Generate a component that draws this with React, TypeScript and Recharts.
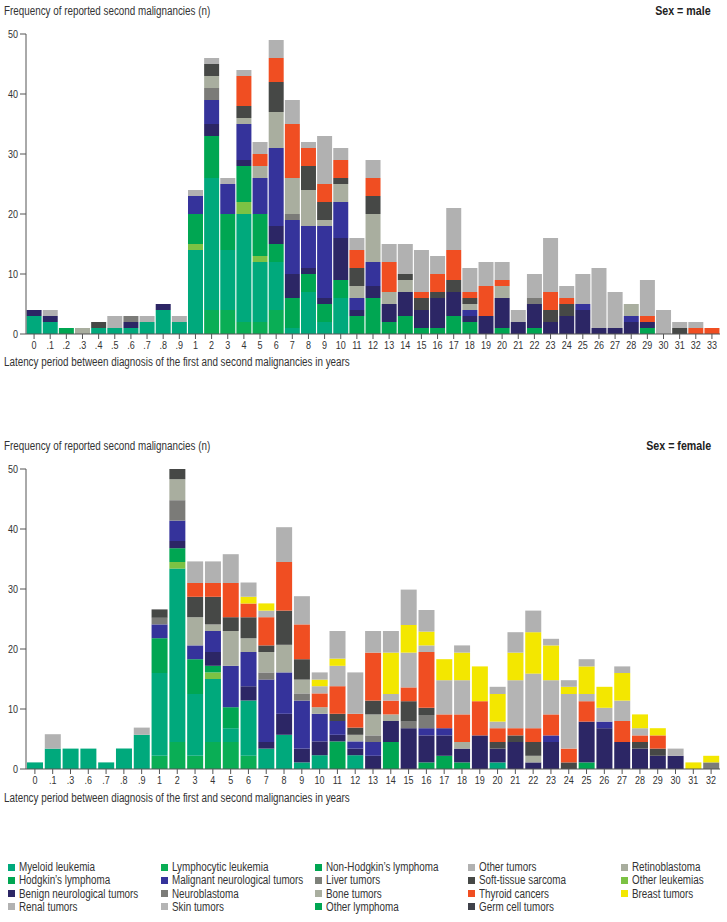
import React from 'react';
import { BarChart, Bar, XAxis, YAxis } from 'recharts';

// ---------- categories ----------
const maleYears = ['0', '.1', '.2', '.3', '.4', '.5', '.6', '.7', '.8', '.9',
  '1', '2', '3', '4', '5', '6', '7', '8', '9', '10',
  '11', '12', '13', '14', '15', '16', '17', '18', '19', '20',
  '21', '22', '23', '24', '25', '26', '27', '28', '29', '30',
  '31', '32', '33'];
const femaleYears = ['0', '.1', '.3', '.6', '.7', '.8', '.9',
  '1', '2', '3', '4', '5', '6', '7', '8', '9', '10',
  '11', '12', '13', '14', '15', '16', '17', '18', '19', '20',
  '21', '22', '23', '24', '25', '26', '27', '28', '29', '30',
  '31', '32'];
const yTicks = [0, 10, 20, 30, 40, 50];

// ---------- male series (bottom to top of stack) ----------
const maleLym = [0, 0, 0, 0, 0, 0, 0, 0, 0, 0, 0, 4, 4, 2, 2, 4, 0, 0, 0, 0, 0, 0, 0, 0, 0, 0, 0, 0, 0, 0, 0, 0, 0, 0, 0, 0, 0, 0, 0, 0, 0, 0, 0];
const maleMye = [3, 2, 0, 0, 1, 1, 1, 2, 4, 2, 14, 22, 10, 18, 10, 8, 1, 7, 2, 6, 0, 0, 0, 0, 0, 0, 0, 0, 0, 0, 0, 0, 0, 0, 0, 0, 0, 0, 0, 0, 0, 0, 0];
const maleOleuk = [0, 0, 0, 0, 0, 0, 0, 0, 0, 0, 1, 0, 0, 2, 1, 0, 0, 0, 0, 0, 0, 0, 0, 0, 0, 0, 0, 0, 0, 0, 0, 0, 0, 0, 0, 0, 0, 0, 0, 0, 0, 0, 0];
const maleNhl = [0, 0, 1, 0, 0, 0, 0, 0, 0, 0, 5, 7, 6, 6, 7, 3, 5, 3, 3, 3, 3, 6, 2, 3, 1, 1, 3, 2, 0, 1, 0, 1, 0, 0, 0, 0, 0, 0, 1, 0, 0, 0, 0];
const maleBen = [1, 1, 0, 0, 0, 0, 1, 0, 1, 0, 0, 2, 0, 1, 0, 3, 4, 1, 1, 7, 1, 2, 3, 4, 3, 5, 4, 1, 3, 5, 2, 4, 2, 3, 4, 1, 1, 2, 1, 0, 0, 0, 0];
const maleMal = [0, 0, 0, 0, 0, 0, 0, 0, 0, 0, 3, 4, 5, 6, 6, 13, 9, 7, 12, 6, 2, 4, 0, 0, 0, 0, 0, 1, 0, 0, 0, 0, 0, 0, 1, 0, 0, 1, 0, 0, 0, 0, 0];
const maleNeu = [0, 0, 0, 0, 0, 0, 1, 0, 0, 0, 0, 2, 0, 0, 0, 0, 1, 0, 0, 0, 0, 0, 0, 0, 0, 0, 0, 0, 0, 0, 0, 1, 0, 0, 0, 0, 0, 0, 0, 0, 0, 0, 0];
const maleBone = [0, 0, 0, 1, 0, 0, 0, 0, 0, 0, 0, 2, 0, 1, 2, 6, 6, 6, 1, 3, 2, 8, 2, 2, 0, 0, 0, 1, 0, 2, 0, 0, 0, 0, 0, 0, 0, 2, 0, 0, 0, 0, 0];
const maleSoft = [0, 0, 0, 0, 1, 0, 0, 0, 0, 0, 0, 2, 0, 2, 0, 5, 0, 4, 3, 1, 3, 3, 0, 1, 2, 1, 2, 1, 0, 0, 0, 0, 2, 2, 0, 0, 0, 0, 0, 0, 1, 0, 0];
const maleThy = [0, 0, 0, 0, 0, 0, 0, 0, 0, 0, 0, 0, 0, 5, 2, 4, 9, 3, 3, 3, 3, 3, 5, 0, 1, 3, 5, 1, 5, 1, 0, 0, 3, 1, 0, 0, 0, 0, 1, 0, 0, 1, 1];
const maleSkin = maleYears.map(() => 0);
const maleBrst = maleYears.map(() => 0);
const maleOth = [0, 1, 0, 0, 0, 2, 0, 1, 0, 1, 1, 1, 1, 1, 2, 3, 4, 1, 8, 2, 2, 3, 3, 5, 7, 3, 7, 4, 4, 3, 2, 4, 9, 2, 5, 10, 6, 0, 6, 4, 1, 1, 0];

// ---------- female series (bottom to top of stack) ----------
const femLym = [0, 0, 0, 0, 0, 0, 0, 2.2, 4.5, 2.2, 4.5, 4.5, 2.2, 0, 0, 0, 0, 0, 0, 0, 0, 0, 0, 0, 0, 0, 0, 0, 0, 0, 0, 0, 0, 0, 0, 0, 0, 0, 0];
const femMye = [1.1, 3.4, 3.4, 3.4, 1.1, 3.4, 5.7, 13.8, 28.9, 10.3, 10.5, 2.3, 9.2, 3.4, 5.7, 1.1, 2.3, 0, 2.3, 0, 0, 0, 0, 0, 0, 0, 1.1, 0, 0, 0, 0, 0, 0, 0, 0, 0, 0, 0, 0];
const femOleuk = [0, 0, 0, 0, 0, 0, 0, 0, 1.1, 0, 1.1, 0, 0, 0, 0, 0, 0, 0, 0, 0, 0, 0, 0, 0, 0, 0, 0, 0, 0, 0, 0, 0, 0, 0, 0, 0, 0, 0, 0];
const femNhl = [0, 0, 0, 0, 0, 0, 0, 5.8, 2.3, 5.8, 1.1, 3.5, 0, 0, 0, 0, 0, 4.6, 0, 0, 4.5, 0, 1.1, 2.2, 1.1, 0, 0, 0, 0, 0, 0, 1.1, 0, 0, 0, 0, 0, 0, 0];
const femBen = [0, 0, 0, 0, 0, 0, 0, 0, 1.2, 0, 2.3, 0, 2.4, 1.1, 3.5, 2.3, 2.3, 1.1, 1.1, 2.2, 3.5, 6.8, 4.5, 3.4, 2.3, 5.6, 2.3, 4.5, 1.1, 4.5, 0, 6.8, 6.8, 4.5, 3.4, 2.2, 2.2, 0, 0];
const femMal = [0, 0, 0, 0, 0, 0, 0, 2.3, 3.4, 2.3, 3.5, 6.9, 5.7, 10.4, 6.9, 8, 4.6, 2.3, 1.2, 2.3, 0, 0, 1.2, 1.2, 0, 0, 0, 0, 0, 1.1, 0, 0, 1.1, 0, 0, 0, 0, 0, 0];
const femNeu = [0, 0, 0, 0, 0, 0, 0, 1.1, 3.4, 0, 0, 0, 0, 1.2, 0, 1.2, 0, 0, 0, 1.1, 0, 1.1, 2.2, 0, 0, 0, 0, 0, 0, 0, 0, 0, 0, 0, 0, 0, 0, 0, 1.1];
const femBone = [0, 0, 0, 0, 0, 0, 0, 0, 3.5, 4.7, 1.1, 5.8, 2.3, 3.4, 4.6, 2.3, 1.1, 0, 1.1, 3.5, 1.1, 0, 0, 0, 1.1, 0, 0, 0, 1.1, 0, 0, 0, 0, 0, 0, 0, 0, 0, 0];
const femSoft = [0, 0, 0, 0, 0, 0, 0, 1.4, 1.7, 3.4, 4.6, 2.3, 3.5, 1.1, 5.7, 3.4, 0, 1.2, 1.2, 2.3, 0, 3.4, 1.2, 0, 0, 0, 1.1, 1.1, 2.3, 0, 1.1, 0, 0, 0, 1.1, 1.2, 0, 0, 0];
const femThy = [0, 0, 0, 0, 0, 0, 0, 0, 0, 2.3, 2.3, 5.7, 2.3, 4.7, 8.1, 5.8, 2.3, 4.6, 2.3, 8.0, 2.3, 2.3, 9.3, 2.3, 4.6, 5.7, 2.3, 1.2, 2.3, 3.5, 2.3, 3.4, 0, 3.5, 1.1, 2.2, 0, 0, 0];
const femSkin = [0, 0, 0, 0, 0, 0, 0, 0, 0, 0, 0, 0, 0, 1.1, 0, 0, 1.2, 3.4, 0, 0, 1.1, 5.8, 1.1, 5.7, 5.7, 0, 1.1, 8.0, 9.1, 5.7, 9.1, 1.2, 2.3, 3.4, 1.2, 0, 0, 0, 0];
const femBrst = [0, 0, 0, 0, 0, 0, 0, 0, 0, 0, 0, 0, 1.1, 1.2, 0, 0, 1.1, 1.2, 0, 0, 6.9, 4.6, 2.3, 3.5, 4.6, 5.8, 4.6, 4.6, 6.9, 5.8, 1.2, 4.6, 3.5, 4.6, 2.3, 1.2, 0, 1.1, 1.1];
const femOth = [0, 2.4, 0, 0, 0, 0, 1.2, 0, 0, 3.6, 3.6, 4.8, 2.4, 0, 5.8, 4.7, 1.2, 4.6, 6.9, 3.6, 3.6, 5.9, 3.6, 0, 1.2, 0, 1.2, 3.4, 3.6, 1.1, 1.1, 1.2, 0, 1.1, 0, 0, 1.2, 0, 0];

// ---------- series definitions ----------
const seriesKeys = ['lym', 'mye', 'oleuk', 'nhl', 'ben', 'mal', 'neu', 'bone', 'soft', 'thy', 'skin', 'brst', 'oth'];
const seriesNames = ['Lymphocytic leukemia', 'Myeloid leukemia', 'Other leukemias', 'Non-Hodgkin\u2019s lymphoma',
  'Benign neurological tumors', 'Malignant neurological tumors', 'Neuroblastoma', 'Bone tumors',
  'Soft-tissue sarcoma', 'Thyroid cancers', 'Skin tumors', 'Breast tumors', 'Other tumors'];
const seriesColors = ['#0aae55', '#00a97c', '#7cc244', '#00a652', '#2c2665', '#35339b', '#7b7b78',
  '#a9ae9f', '#464846', '#f04e22', '#b4b4b4', '#f3e700', '#b1b1b1'];

const maleSeries = [maleLym, maleMye, maleOleuk, maleNhl, maleBen, maleMal, maleNeu, maleBone, maleSoft, maleThy, maleSkin, maleBrst, maleOth];
const femSeries = [femLym, femMye, femOleuk, femNhl, femBen, femMal, femNeu, femBone, femSoft, femThy, femSkin, femBrst, femOth];

// ---------- legend ----------
const legendLabels = [
  'Myeloid leukemia', 'Hodgkin\u2019s lymphoma', 'Benign neurological tumors', 'Renal tumors',
  'Lymphocytic leukemia', 'Malignant neurological tumors', 'Neuroblastoma', 'Skin tumors',
  'Non-Hodgkin\u2019s lymphoma', 'Liver tumors', 'Bone tumors', 'Other lymphoma',
  'Other tumors', 'Soft-tissue sarcoma', 'Thyroid cancers', 'Germ cell tumors',
  'Retinoblastoma', 'Other leukemias', 'Breast tumors',
];
const legendColors = [
  '#00a97c', '#00a652', '#2c2665', '#b2b2b2',
  '#0aae55', '#35339b', '#7b7b78', '#b4b4b4',
  '#00a652', '#7d8079', '#a9ae9f', '#00a652',
  '#b1b1b1', '#464846', '#f04e22', '#3f414a',
  '#a8ad9d', '#7cc244', '#f3e700',
];

const FONT = "'Liberation Sans', Arial, sans-serif";
const TEXT = '#333';
const NARROW = 0.82;

function buildRows(years: string[], series: number[][]) {
  return years.map((y, i) => {
    const row: Record<string, number | string> = { year: y };
    seriesKeys.forEach((k, s) => { row[k] = series[s][i]; });
    return row;
  });
}

const maleRows = buildRows(maleYears, maleSeries);
const femaleRows = buildRows(femaleYears, femSeries);

function XTick(props: any) {
  const { x, y, payload } = props;
  return (
    <g transform={`translate(${x},${y})`}>
      <text x={0} y={0} dy="0.71em" textAnchor="middle" fontSize={11} fill={TEXT} fontFamily={FONT}
        transform={`scale(${NARROW},1)`}>{payload.value}</text>
    </g>
  );
}

function YTick(props: any) {
  const { x, y, payload } = props;
  return (
    <g transform={`translate(${x},${y})`}>
      <text x={0} y={0} dy="0.355em" textAnchor="end" fontSize={11} fill={TEXT} fontFamily={FONT}
        transform={`scale(${NARROW},1)`}>{payload.value}</text>
    </g>
  );
}

function Narrow({ children, origin = 'left', style }: { children: any; origin?: string; style: any }) {
  return (
    <div style={{ position: 'absolute', whiteSpace: 'nowrap', ...style }}>
      <span style={{ display: 'inline-block', transform: `scaleX(${NARROW})`, transformOrigin: `${origin} center` }}>{children}</span>
    </div>
  );
}

function Panel({ rows, top, gap, sex }: { rows: any[]; top: number; gap: number; sex: string }) {
  return (
    <div style={{ position: 'absolute', left: 0, top, width: 727, height: 380 }}>
      <Narrow style={{ left: 4, top: 4, fontSize: 12, color: TEXT }}>
        Frequency of reported second malignancies (n)
      </Narrow>
      <Narrow origin="right" style={{ right: 16, top: 3, fontSize: 13, fontWeight: 'bold', color: '#222', textAlign: 'right' }}>
        {sex}
      </Narrow>
      <BarChart
        width={727}
        height={380}
        data={rows}
        margin={{ top: 34, right: 7, bottom: 16, left: 0 }}
        barCategoryGap={gap}
      >
        <YAxis
          width={26}
          domain={[0, 50]}
          ticks={yTicks}
          interval={0}
          tickSize={6}
          tickMargin={2}
          axisLine={{ stroke: '#555' }}
          tickLine={{ stroke: '#555' }}
          tick={<YTick />}
        />
        <XAxis
          dataKey="year"
          height={30}
          interval={0}
          tickSize={5}
          tickMargin={2}
          axisLine={{ stroke: '#555' }}
          tickLine={{ stroke: '#555' }}
          tick={<XTick />}
        />
        {seriesKeys.map((k, i) => (
          <Bar key={k} dataKey={k} name={seriesNames[i]} stackId="s" fill={seriesColors[i]} isAnimationActive={false} />
        ))}
      </BarChart>
    </div>
  );
}

export default function App() {
  return (
    <div style={{ position: 'absolute', left: 0, top: 0, width: 727, height: 922, background: '#fff', fontFamily: FONT }}>
      <Panel rows={maleRows} top={0} gap={0.6} sex="Sex = male" />
      <Narrow style={{ left: 4, top: 355, fontSize: 12, color: TEXT }}>
        Latency period between diagnosis of the first and second malignancies in years
      </Narrow>
      <Panel rows={femaleRows} top={435} gap={1} sex="Sex = female" />
      <Narrow style={{ left: 4, top: 791, fontSize: 12, color: TEXT }}>
        Latency period between diagnosis of the first and second malignancies in years
      </Narrow>
      {legendLabels.map((label, i) => {
        const col = Math.floor(i / 4);
        const row = i % 4;
        const x = 8 + col * 153.3;
        const y = 867 + row * 13.3;
        return (
          <div key={label} style={{ position: 'absolute', left: x, top: y - 7, height: 14, display: 'flex', alignItems: 'center', whiteSpace: 'nowrap' }}>
            <span style={{ display: 'inline-block', width: 7, height: 7, background: legendColors[i], marginRight: 4, flex: 'none' }} />
            <span style={{ display: 'inline-block', fontSize: 12, color: TEXT, transform: `scaleX(${NARROW})`, transformOrigin: 'left center' }}>{label}</span>
          </div>
        );
      })}
    </div>
  );
}
